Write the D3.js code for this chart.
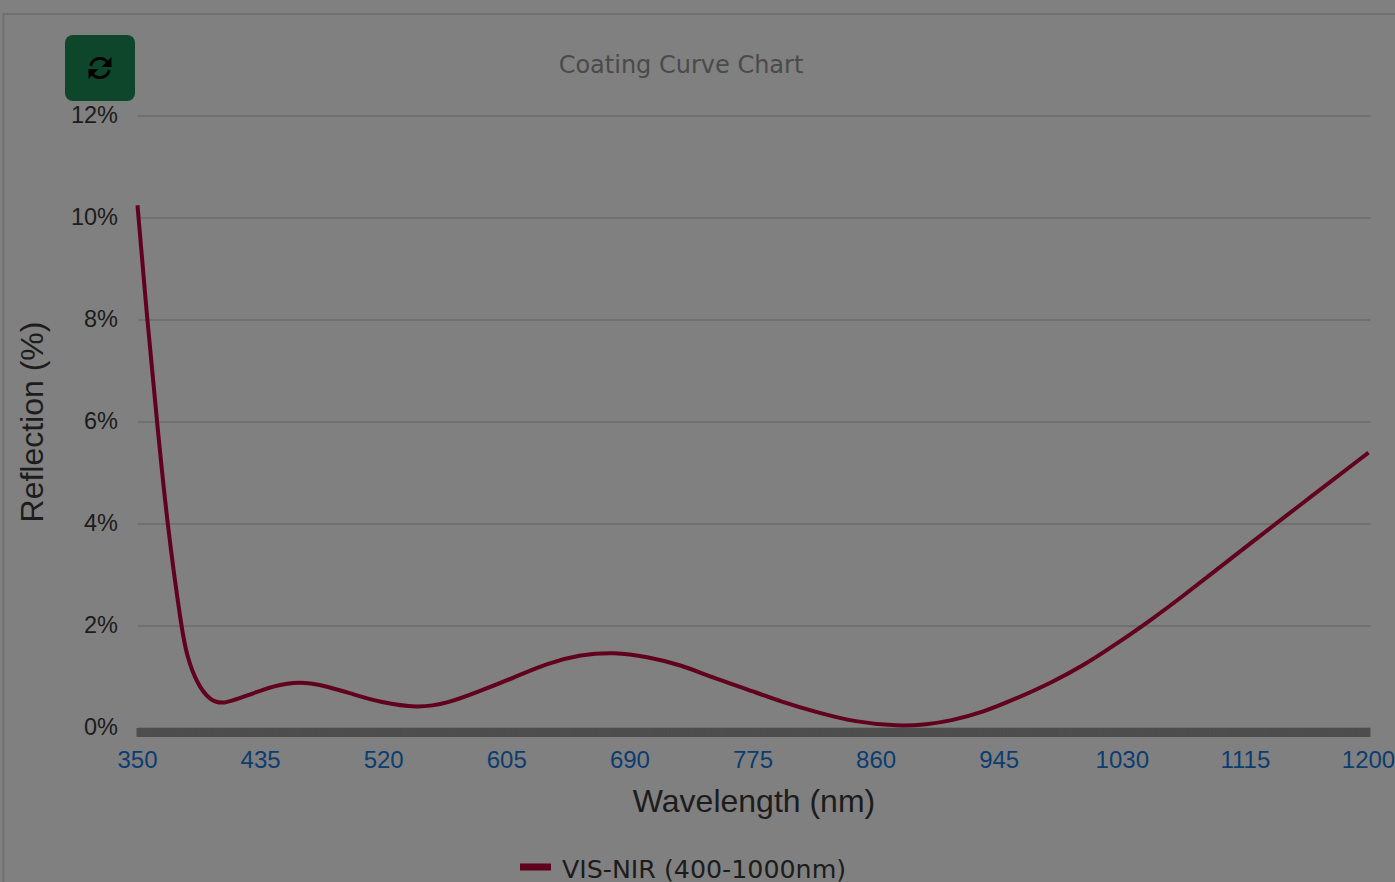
<!DOCTYPE html>
<html>
<head>
<meta charset="utf-8">
<script src="https://cdn.jsdelivr.net/npm/d3@7"></script>
<style>
    html, body { margin: 0; padding: 0; background: #808080; overflow: hidden; }
    svg { display: block; }
    .tick-y { font: 23.5px "Liberation Sans", Arial, sans-serif; fill: #1c1c1c; }
    .tick-x { font: 24px "Liberation Sans", Arial, sans-serif; fill: #0b3d70; }
    .axis-title { font: 32px "Liberation Sans", Arial, sans-serif; fill: #1c1c1c; }
</style>
</head>
<body>
<div id="chart"></div>
<script>
const xTickLabels = [350, 435, 520, 605, 690, 775, 860, 945, 1030, 1115, 1200];
const yTickLabels = [0, 2, 4, 6, 8, 10, 12];
const wavelengths = [350, 356.7, 363.5, 370.5, 380.4, 384, 391, 400, 409, 425, 444, 462, 481, 499, 518, 543, 564, 587, 610, 633, 656, 679, 702, 725, 747, 771, 794, 820, 845, 876, 895, 911, 934, 957, 980, 1003, 1026, 1049, 1072, 1095, 1118, 1160, 1200];
const reflection = [10.25, 8, 6, 4, 1.95, 1.42, 0.87, 0.54, 0.46, 0.63, 0.83, 0.92, 0.82, 0.66, 0.5, 0.39, 0.48, 0.73, 0.99, 1.27, 1.44, 1.49, 1.4, 1.24, 0.99, 0.76, 0.52, 0.3, 0.12, 0.03, 0.07, 0.137, 0.31, 0.58, 0.875, 1.22, 1.65, 2.1, 2.59, 3.1, 3.61, 4.53, 5.4];
const legendLabel = 'VIS-NIR (400-1000nm)';

const width = 1395;
const height = 882;

const svg = d3.select('#chart').append('svg')
    .attr('width', width)
    .attr('height', height);

// page frame
svg.append('path')
    .attr('d', `M3.5,${height} V14 H${width}`)
    .attr('fill', 'none')
    .attr('stroke', '#707070')
    .attr('stroke-width', 2);

const x = d3.scaleLinear().domain([350, 1200]).range([137.5, 1368.5]);
const y = d3.scaleLinear().domain([0, 12]).range([728, 116]);

// gridlines
svg.append('g')
    .selectAll('line')
    .data(yTickLabels)
    .enter().append('line')
    .attr('x1', x(350))
    .attr('x2', x(1200) + 2)
    .attr('y1', d => y(d))
    .attr('y2', d => y(d))
    .attr('stroke', '#707070')
    .attr('stroke-width', 2);

// dense tick marks along the x axis, one per nm
svg.append('g')
    .attr('transform', `translate(0,${y(0)})`)
    .call(d3.axisBottom(x).tickValues(d3.range(350, 1201, 1)).tickSize(9).tickFormat(''))
    .call(g => g.select('.domain').remove())
    .selectAll('line')
    .attr('stroke', '#4e4e4e')
    .attr('stroke-width', 3);

svg.append('g')
    .selectAll('text')
    .data(yTickLabels)
    .enter().append('text')
    .attr('class', 'tick-y')
    .attr('x', 118)
    .attr('y', d => y(d) + 7)
    .attr('text-anchor', 'end')
    .text(d => `${d}%`);

svg.append('g')
    .selectAll('text')
    .data(xTickLabels)
    .enter().append('text')
    .attr('class', 'tick-x')
    .attr('x', d => x(d))
    .attr('y', 768)
    .attr('text-anchor', 'middle')
    .text(d => d);

const line = d3.line()
    .x(d => x(d[0]))
    .y(d => y(d[1]))
    .curve(d3.curveBasis);

svg.append('path')
    .datum(wavelengths.map((w, i) => [w, reflection[i]]))
    .attr('d', line)
    .attr('fill', 'none')
    .attr('stroke', '#62001f')
    .attr('stroke-width', 4);

svg.append('text')
    .attr('x', 681)
    .attr('y', 73)
    .attr('text-anchor', 'middle')
    .attr('font-family', 'DejaVu Sans')
    .attr('font-size', 24)
    .attr('fill', '#4a4a4a')
    .text('Coating Curve Chart');

svg.append('text')
    .attr('class', 'axis-title')
    .attr('x', 754)
    .attr('y', 812)
    .attr('text-anchor', 'middle')
    .text('Wavelength (nm)');

svg.append('text')
    .attr('class', 'axis-title')
    .attr('transform', 'translate(43,422) rotate(-90)')
    .attr('text-anchor', 'middle')
    .text('Reflection (%)');

// legend
svg.append('line')
    .attr('x1', 520).attr('x2', 551)
    .attr('y1', 867).attr('y2', 867)
    .attr('stroke', '#5c001c')
    .attr('stroke-width', 7);

svg.append('text')
    .attr('x', 562)
    .attr('y', 878)
    .attr('font-family', 'DejaVu Sans')
    .attr('font-size', 25.3)
    .attr('fill', '#1c1c1c')
    .text(legendLabel);

// refresh button
const btn = svg.append('g').attr('transform', 'translate(100,68)');
btn.append('rect')
    .attr('x', -35).attr('y', -33)
    .attr('width', 70).attr('height', 66)
    .attr('rx', 8)
    .attr('fill', '#0d462b');
const arc = d3.arc().innerRadius(8).outerRadius(11);
btn.append('path').attr('d', arc({ startAngle: -1.35, endAngle: 1.05 })).attr('fill', '#000');
btn.append('path').attr('d', arc({ startAngle: 1.8, endAngle: 4.2 })).attr('fill', '#000');
btn.append('path').attr('d', 'M11.5,-11 V-1 H1.5 Z').attr('fill', '#000');
btn.append('path').attr('d', 'M-11.5,11 V1 H-1.5 Z').attr('fill', '#000');
</script>
</body>
</html>
